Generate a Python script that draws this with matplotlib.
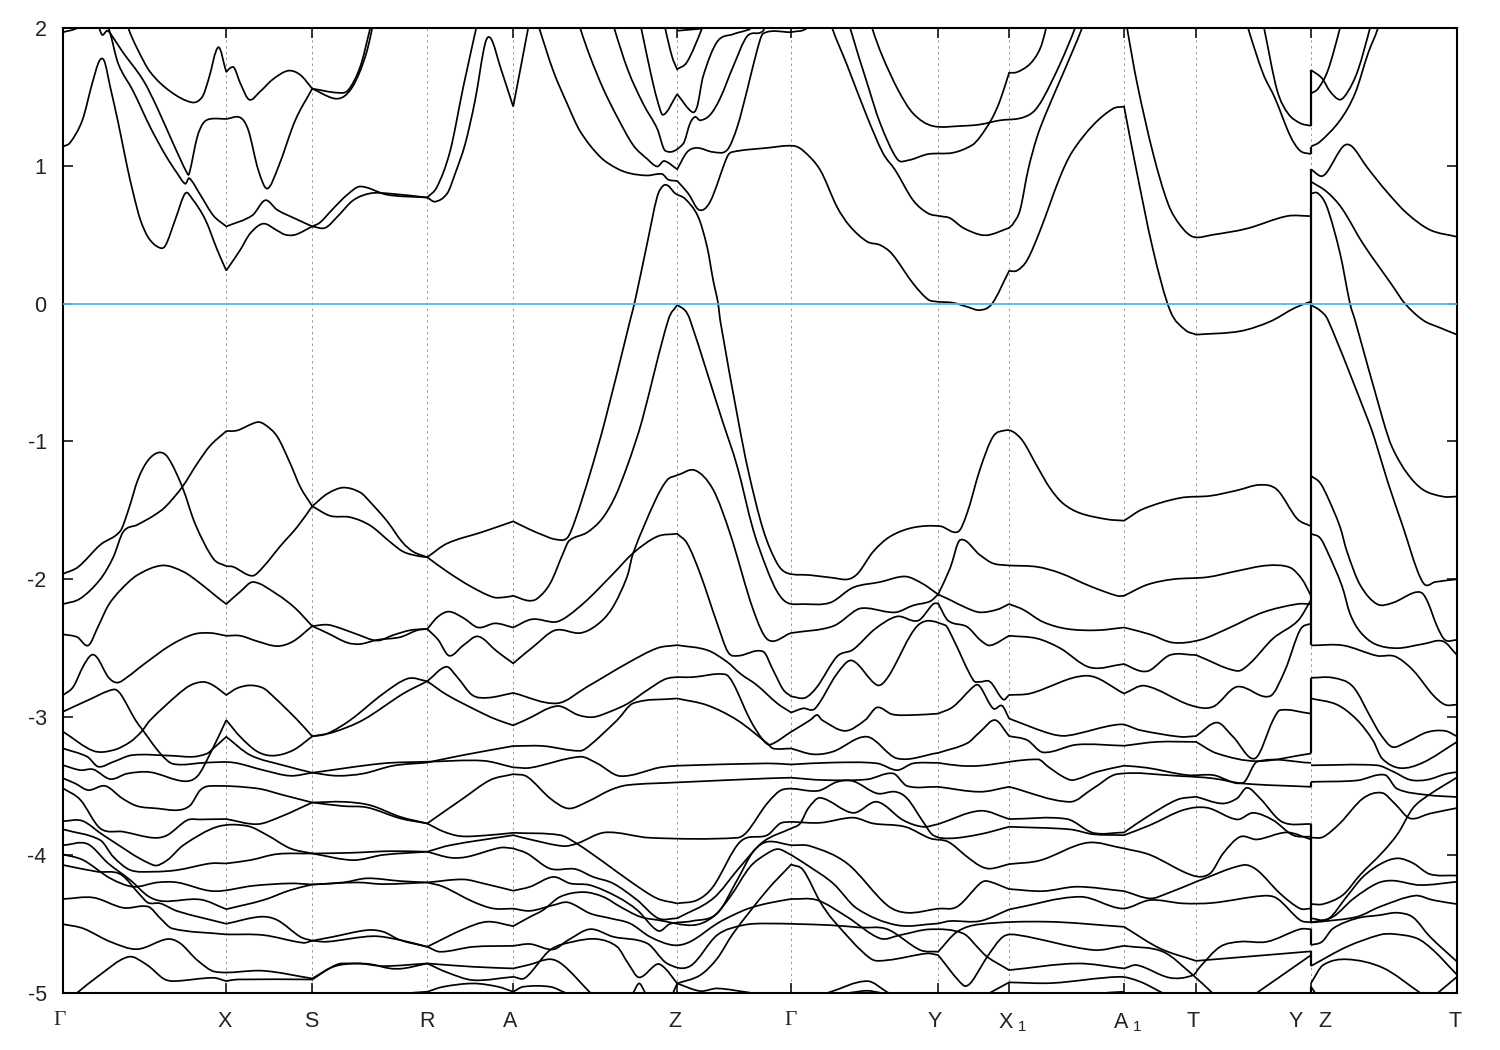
import matplotlib
matplotlib.use("Agg")
import matplotlib.pyplot as plt
from matplotlib.path import Path
from matplotlib.patches import PathPatch
from matplotlib.transforms import ScaledTranslation

plt.rcParams['font.family'] = ['Liberation Sans', 'DejaVu Sans']
plt.rcParams['mathtext.fontset'] = 'custom'
plt.rcParams['mathtext.rm'] = 'Liberation Sans'
plt.rcParams['axes.unicode_minus'] = False

sym_k = [0, 1.63, 2.49, 3.64, 4.50, 6.14, 7.28, 8.75, 9.46, 10.61, 11.33, 12.48, 13.94]
label_k = [0, 1.61, 2.48, 3.64, 4.47, 6.12, 7.27, 8.72, 9.49, 10.64, 11.30, 12.33, 12.62, 13.92]
label_text = ['Γ', 'X', 'S', 'R', 'A', 'Z', 'Γ', 'Y', r'X$_{\ 1}$', r'A$_{\ 1}$', 'T', 'Y', 'Z', 'T']
y_ticks = [2, 1, 0, -1, -2, -3, -4, -5]

# Conduction bands
c01 = [(0,1.14),(.07,1.17),(.19,1.33),(.29,1.60),(.36,1.76),(.41,1.76),(.47,1.57),(.55,1.31),(.64,.99),(.70,.80),(.77,.61),(.85,.48),(.95,.41),(1.02,.42),(1.12,.61),(1.22,.80),(1.29,.76),(1.42,.61),(1.54,.39),(1.63,.24),(1.77,.39),(1.87,.51),(2.0,.58),(2.14,.53),(2.22,.50),(2.32,.50),(2.49,.56),(2.62,.55),(2.74,.63),(2.90,.75),(3.07,.80),(3.24,.80),(3.64,.77),(3.72,.74),(3.84,.80),(3.92,.945),(4.02,1.16),(4.12,1.48),(4.22,1.89),(4.28,1.92),(4.37,1.72),(4.50,1.43),(4.65,2.0),(4.70,2.2)]
c02 = [(0,1.97),(.14,2.0),(.20,2.05),(.35,2.05),(.36,2.0),(.39,1.95),(.44,1.98),(.49,1.94),(.59,1.83),(.80,1.62),(.94,1.42),(1.10,1.16),(1.24,.945),(1.26,.945),(1.34,1.21),(1.40,1.31),(1.47,1.34),(1.63,1.34),(1.77,1.35),(1.85,1.26),(1.95,.97),(2.04,.835),(2.15,.99),(2.32,1.33),(2.49,1.56),(2.70,1.49),(2.80,1.50),(2.89,1.57),(2.97,1.69),(3.04,1.84),(3.09,2.0),(3.12,2.1)]
c03 = [(.43,2.05),(.47,1.96),(.55,1.74),(.70,1.54),(.87,1.28),(1.02,1.08),(1.14,.945),(1.22,.87),(1.26,.91),(1.37,.79),(1.50,.64),(1.63,.56),(1.89,.64),(2.02,.75),(2.14,.68),(2.34,.61),(2.49,.56),(2.57,.59),(2.70,.69),(2.84,.79),(2.97,.85),(3.24,.79),(3.64,.77),(3.74,.85),(3.87,1.11),(4.0,1.57),(4.13,2.0),(4.16,2.1)]
c04 = [(.62,2.1),(.65,2.0),(.74,1.85),(.87,1.68),(1.07,1.54),(1.29,1.46),(1.39,1.50),(1.45,1.62),(1.55,1.86),(1.63,1.68),(1.67,1.71),(1.71,1.71),(1.77,1.60),(1.86,1.48),(1.97,1.54),(2.10,1.63),(2.25,1.69),(2.37,1.66),(2.49,1.56),(2.75,1.53),(2.85,1.55),(2.97,1.72),(3.07,2.0),(3.10,2.1)]
c05 = [(4.72,2.1),(4.76,2.0),(4.90,1.69),(5.04,1.45),(5.17,1.25),(5.37,1.065),(5.54,.98),(5.67,.945),(5.84,.93),(5.99,.94),(6.05,.90),(6.14,.89),(6.25,.80),(6.36,.68),(6.47,.74),(6.64,1.065),(6.69,1.10),(7.04,1.13),(7.30,1.145),(7.40,1.11),(7.57,.97),(7.74,.70),(7.87,.56),(8.04,.45),(8.17,.425),(8.29,.36),(8.50,.146),(8.65,.03),(8.75,.013),(8.90,.006),(9.04,-.023),(9.17,-.047),(9.29,0),(9.46,.237),(9.54,.24),(9.64,.315),(9.77,.53),(9.97,.92),(10.09,1.10),(10.30,1.295),(10.50,1.415),(10.61,1.43),(10.72,1.017),(10.90,.39),(11.07,-.05),(11.22,-.19),(11.33,-.225),(11.77,-.20),(12.07,-.13),(12.32,-.03),(12.48,.015)]
c06 = [(5.14,2.1),(5.17,2.0),(5.27,1.79),(5.40,1.56),(5.54,1.355),(5.70,1.15),(5.84,1.05),(5.94,.995),(6.01,1.035),(6.14,.975),(6.24,1.10),(6.34,1.13),(6.50,1.10),(6.64,1.115),(6.74,1.28),(6.84,1.55),(6.94,1.84),(7.0,1.96),(7.28,1.97),(7.44,2.0),(7.5,2.1)]
c07 = [(5.48,2.1),(5.51,2.0),(5.65,1.69),(5.80,1.45),(5.94,1.27),(6.02,1.11),(6.20,1.16),(6.27,1.31),(6.32,1.355),(6.37,1.33),(6.47,1.37),(6.57,1.49),(6.70,1.72),(6.84,1.94),(7.0,1.98),(7.05,2.1)]
c08 = [(5.75,2.1),(5.78,2.0),(5.87,1.69),(5.94,1.48),(6.0,1.37),(6.14,1.52),(6.29,1.39),(6.34,1.43),(6.40,1.65),(6.54,1.90),(6.70,1.955),(6.84,1.985),(6.87,2.0),(6.9,2.1)]
c09 = [(6.0,2.1),(6.02,2.0),(6.09,1.79),(6.14,1.70),(6.24,1.755),(6.39,2.0),(6.43,2.1)]
c10 = [(6.14,1.98),(6.38,1.995)]
c11 = [(7.66,2.1),(7.69,2.0),(7.84,1.73),(8.04,1.355),(8.20,1.09),(8.32,.97),(8.50,.75),(8.65,.655),(8.77,.635),(8.87,.62),(9.0,.55),(9.17,.50),(9.27,.50),(9.46,.55),(9.50,.58),(9.57,.68),(9.65,.97),(9.74,1.21),(9.84,1.40),(10.0,1.67),(10.19,2.0),(10.23,2.1)]
c12 = [(7.84,2.1),(7.87,2.0),(8.04,1.60),(8.17,1.31),(8.34,1.05),(8.45,1.04),(8.65,1.085),(8.90,1.095),(9.09,1.15),(9.17,1.21),(9.29,1.345),(9.37,1.475),(9.46,1.675),(9.54,1.68),(9.67,1.74),(9.77,1.85),(9.83,2.0),(9.85,2.1)]
c13 = [(8.06,2.1),(8.09,2.0),(8.19,1.80),(8.35,1.55),(8.50,1.38),(8.69,1.29),(9.0,1.29),(9.17,1.30),(9.37,1.33),(9.57,1.345),(9.70,1.39),(9.80,1.49),(9.97,1.74),(10.12,2.0),(10.16,2.1)]
c14 = [(10.62,2.1),(10.64,2.0),(10.74,1.60),(10.90,1.09),(11.05,.725),(11.17,.57),(11.30,.485),(11.50,.50),(11.84,.545),(12.24,.635),(12.48,.635)]
c15 = [(11.82,2.1),(11.85,2.0),(12.0,1.67),(12.12,1.49),(12.27,1.22),(12.37,1.11),(12.48,1.085)]
c16 = [(11.98,2.1),(12.01,2.0),(12.14,1.55),(12.25,1.38),(12.37,1.31),(12.48,1.29)]

# Valence bands, main path
v01 = [(0,-1.96),(.15,-1.91),(.37,-1.75),(.57,-1.65),(.65,-1.50),(.75,-1.27),(.85,-1.135),(.96,-1.08),(1.05,-1.12),(1.19,-1.33),(1.32,-1.60),(1.50,-1.85),(1.63,-1.905),(1.70,-1.91),(1.89,-1.975),(2.0,-1.91),(2.17,-1.76),(2.34,-1.62),(2.49,-1.47),(2.64,-1.38),(2.80,-1.335),(2.97,-1.37),(3.07,-1.44),(3.24,-1.58),(3.39,-1.73),(3.50,-1.80),(3.64,-1.84),(3.84,-1.945),(4.07,-2.05),(4.30,-2.13),(4.42,-2.13),(4.50,-2.12),(4.65,-2.155),(4.74,-2.14),(4.87,-2.03),(5.0,-1.81),(5.06,-1.72),(5.24,-1.66),(5.39,-1.56),(5.52,-1.40),(5.64,-1.18),(5.72,-1.01),(5.79,-.845),(6.05,-.12),(6.14,-.01),(6.22,-.05),(6.27,-.12),(6.59,-.845),(6.74,-1.18),(6.90,-1.64),(7.04,-1.93),(7.14,-2.09),(7.24,-2.17),(7.40,-2.18),(7.67,-2.17),(7.90,-2.06),(8.17,-2.02),(8.42,-1.98),(8.59,-2.03),(8.75,-2.11),(8.87,-2.15),(9.04,-2.21),(9.17,-2.24),(9.34,-2.22),(9.46,-2.18),(9.60,-2.22),(9.80,-2.31),(10.04,-2.36),(10.34,-2.37),(10.61,-2.35),(10.87,-2.40),(11.10,-2.46),(11.37,-2.44),(11.64,-2.36),(12.0,-2.24),(12.34,-2.18),(12.48,-2.18)]
v02 = [(3.64,-1.84),(3.84,-1.74),(4.20,-1.655),(4.50,-1.58),(4.67,-1.64),(4.80,-1.68),(4.92,-1.71),(5.04,-1.70),(5.12,-1.57),(5.27,-1.23),(5.42,-.845),(5.67,-.12),(5.72,.026),(5.84,.437),(5.94,.775),(6.0,.855),(6.05,.855),(6.12,.80),(6.22,.76),(6.35,.63),(6.44,.41),(6.50,.17),(6.55,0),(6.57,-.12),(6.75,-.845),(6.85,-1.21),(7.0,-1.64),(7.14,-1.885),(7.24,-1.955),(7.47,-1.97),(7.70,-1.99),(7.85,-2.0),(7.95,-1.955),(8.10,-1.80),(8.27,-1.69),(8.50,-1.625),(8.77,-1.615),(8.95,-1.655),(9.04,-1.52),(9.17,-1.20),(9.30,-.965),(9.42,-.92),(9.50,-.93),(9.60,-1.0),(9.74,-1.18),(9.87,-1.34),(10.0,-1.45),(10.17,-1.52),(10.44,-1.565),(10.61,-1.575),(10.80,-1.49),(11.17,-1.41),(11.47,-1.395),(11.74,-1.355),(11.97,-1.315),(12.14,-1.35),(12.34,-1.56),(12.48,-1.615)]
v03 = [(0,-2.18),(.17,-2.14),(.37,-2.0),(.50,-1.84),(.60,-1.655),(.74,-1.605),(.90,-1.54),(1.02,-1.475),(1.19,-1.33),(1.34,-1.16),(1.47,-1.03),(1.63,-.925),(1.74,-.92),(1.94,-.86),(2.02,-.88),(2.14,-.965),(2.27,-1.16),(2.37,-1.33),(2.49,-1.47),(2.67,-1.54),(2.87,-1.55),(3.07,-1.61),(3.27,-1.73),(3.40,-1.80),(3.54,-1.83),(3.64,-1.84)]
v04 = [(0,-2.40),(.14,-2.42),(.25,-2.48),(.35,-2.34),(.45,-2.19),(.57,-2.08),(.74,-1.97),(.99,-1.90),(1.20,-1.945),(1.37,-2.03),(1.54,-2.13),(1.63,-2.18),(1.77,-2.09),(1.90,-2.02),(2.14,-2.11),(2.32,-2.21),(2.49,-2.34),(2.64,-2.39),(2.84,-2.46),(2.97,-2.47),(3.14,-2.44),(3.37,-2.42),(3.54,-2.37),(3.64,-2.36),(3.75,-2.27),(3.86,-2.235),(4.0,-2.28),(4.15,-2.35),(4.32,-2.32),(4.50,-2.35),(4.69,-2.29),(4.92,-2.31),(5.04,-2.27),(5.24,-2.15),(5.50,-1.96),(5.70,-1.81),(5.94,-1.69),(6.14,-1.67),(6.24,-1.74),(6.37,-1.96),(6.54,-2.32),(6.65,-2.53),(6.75,-2.555),(7.0,-2.525),(7.10,-2.66),(7.2,-2.80),(7.28,-2.85),(7.42,-2.86),(7.54,-2.78),(7.74,-2.56),(7.90,-2.51),(8.12,-2.36),(8.34,-2.27),(8.55,-2.30),(8.70,-2.18),(8.75,-2.175),(8.85,-2.30),(9.04,-2.345),(9.17,-2.44),(9.27,-2.48),(9.46,-2.41),(9.74,-2.43),(9.97,-2.50),(10.27,-2.64),(10.61,-2.615),(10.77,-2.665),(10.87,-2.66),(11.07,-2.55),(11.33,-2.55),(11.74,-2.665),(11.87,-2.61),(12.10,-2.43),(12.35,-2.30),(12.48,-2.15)]
v05 = [(3.64,-2.36),(3.75,-2.44),(3.86,-2.555),(4.0,-2.48),(4.15,-2.415),(4.34,-2.525),(4.50,-2.61),(4.70,-2.49),(4.92,-2.37),(5.17,-2.39),(5.34,-2.33),(5.49,-2.21),(5.64,-1.98),(5.70,-1.81),(5.92,-1.43),(6.04,-1.28),(6.14,-1.245),(6.32,-1.21),(6.50,-1.35),(6.67,-1.67),(6.90,-2.22),(7.05,-2.44),(7.28,-2.39),(7.70,-2.34),(7.94,-2.22),(8.04,-2.21),(8.32,-2.24),(8.50,-2.19),(8.67,-2.16),(8.75,-2.11),(8.87,-1.92),(8.97,-1.715),(9.17,-1.825),(9.30,-1.885),(9.46,-1.90),(9.74,-1.91),(9.97,-1.955),(10.27,-2.05),(10.54,-2.12),(10.61,-2.12),(10.84,-2.04),(11.10,-2.0),(11.44,-1.985),(11.74,-1.94),(12.04,-1.90),(12.27,-1.915),(12.39,-2.0),(12.48,-2.12)]
v06 = [(0,-2.84),(.10,-2.78),(.20,-2.63),(.28,-2.55),(.34,-2.57),(.45,-2.71),(.54,-2.75),(.64,-2.71),(.80,-2.62),(1.07,-2.48),(1.30,-2.40),(1.47,-2.39),(1.63,-2.41),(1.77,-2.41),(1.94,-2.45),(2.14,-2.485),(2.30,-2.45),(2.49,-2.34),(2.64,-2.33),(2.77,-2.355),(2.94,-2.40),(3.14,-2.445),(3.30,-2.405),(3.47,-2.37),(3.64,-2.36)]
v07 = [(0,-2.96),(.24,-2.88),(.50,-2.80),(.57,-2.83),(.72,-3.02),(.79,-3.09),(.97,-3.264),(1.10,-3.34),(1.44,-3.33),(1.70,-3.33),(2.0,-3.385),(2.27,-3.426),(2.49,-3.404),(3.20,-3.336),(3.64,-3.324),(4.20,-3.317),(4.50,-3.365),(4.67,-3.368),(5.17,-3.288),(5.34,-3.336),(5.57,-3.428),(5.97,-3.365),(6.14,-3.353),(7.04,-3.336),(7.28,-3.344),(7.70,-3.33),(8.14,-3.336),(8.34,-3.385),(8.50,-3.336),(8.75,-3.332),(8.97,-3.353),(9.17,-3.353),(9.75,-3.307),(9.85,-3.36),(10.0,-3.433),(10.10,-3.457),(10.34,-3.397),(10.61,-3.353),(10.84,-3.368),(11.24,-3.421),(11.50,-3.421),(11.80,-3.477),(11.94,-3.324),(12.48,-3.332)]
v08 = [(0,-3.107),(.30,-3.245),(.50,-3.24),(.67,-3.18),(.78,-3.107),(.87,-3.022),(1.14,-2.84),(1.27,-2.77),(1.40,-2.745),(1.50,-2.77),(1.63,-2.84),(1.74,-2.79),(1.87,-2.77),(2.0,-2.79),(2.10,-2.85),(2.34,-3.02),(2.49,-3.14),(2.70,-3.11),(3.0,-3.02),(3.40,-2.83),(3.64,-2.74),(3.83,-2.635),(3.94,-2.71),(4.09,-2.84),(4.24,-2.86),(4.50,-2.825),(4.94,-2.90),(5.24,-2.78),(5.64,-2.61),(5.94,-2.50),(6.14,-2.478),(6.44,-2.514),(6.64,-2.60),(6.77,-2.684),(6.94,-2.77),(7.14,-2.90),(7.28,-2.967),(7.40,-2.937),(7.52,-2.937),(7.74,-2.684),(7.89,-2.59),(8.14,-2.768),(8.25,-2.708),(8.55,-2.333),(8.82,-2.333),(8.89,-2.417),(9.10,-2.73),(9.17,-2.744),(9.27,-2.744),(9.40,-2.872),(9.46,-2.84),(9.67,-2.829),(10.24,-2.70),(10.61,-2.829),(10.82,-2.773),(11.27,-2.913),(11.50,-2.925),(11.74,-2.78),(12.07,-2.848),(12.22,-2.66),(12.37,-2.369),(12.48,-2.32)]
v09 = [(0,-3.35),(.17,-3.385),(.30,-3.38),(.47,-3.45),(.64,-3.41),(.87,-3.40),(1.20,-3.465),(1.34,-3.43),(1.47,-3.264),(1.63,-3.022),(1.77,-3.143),(1.94,-3.25),(2.10,-3.28),(2.30,-3.24),(2.49,-3.14),(2.64,-3.12),(2.87,-3.022),(3.20,-2.83),(3.45,-2.72),(3.64,-2.74),(3.84,-2.84),(4.20,-2.975),(4.34,-3.02),(4.50,-3.06),(4.62,-3.022),(4.94,-2.92),(5.15,-2.985),(5.30,-3.0),(5.47,-2.96),(5.65,-2.90),(5.84,-2.805),(6.04,-2.72),(6.30,-2.71),(6.62,-2.69),(6.70,-2.755),(6.87,-3.02),(7.0,-3.167),(7.07,-3.20),(7.28,-3.107),(7.47,-3.022),(7.54,-2.985),(7.59,-3.022),(7.82,-3.10),(8.02,-3.022),(8.14,-2.93),(8.29,-2.98),(8.50,-2.985),(8.75,-2.975),(8.90,-2.925),(9.12,-2.77),(9.17,-2.78),(9.30,-2.937),(9.39,-2.918),(9.46,-3.01),(9.50,-3.022),(9.87,-3.12),(10.04,-3.135),(10.57,-3.053),(10.77,-3.095),(11.17,-3.143),(11.33,-3.138),(11.54,-3.04),(11.70,-3.143),(11.92,-3.30),(12.10,-3.022),(12.17,-2.95),(12.48,-2.975)]
v10 = [(0,-3.228),(.24,-3.288),(.35,-3.36),(.50,-3.325),(.69,-3.276),(1.07,-3.28),(1.30,-3.288),(1.44,-3.264),(1.50,-3.228),(1.63,-3.143),(1.87,-3.276),(2.20,-3.35),(2.49,-3.404),(2.74,-3.426),(3.0,-3.41),(3.30,-3.353),(3.64,-3.33),(4.0,-3.276),(4.50,-3.21),(4.80,-3.21),(5.17,-3.245),(5.27,-3.203),(5.54,-3.022),(5.70,-2.90),(6.14,-2.865),(6.44,-2.914),(6.74,-3.022),(7.04,-3.19),(7.10,-3.228),(7.28,-3.228),(7.50,-3.27),(7.70,-3.25),(8.04,-3.143),(8.34,-3.30),(8.75,-3.26),(9.04,-3.19),(9.17,-3.107),(9.32,-3.022),(9.46,-3.138),(9.64,-3.167),(9.80,-3.256),(10.14,-3.20),(10.61,-3.208),(10.94,-3.18),(11.33,-3.18),(11.54,-3.264),(11.94,-3.32),(12.48,-3.264)]
v11 = [(0,-3.518),(.17,-3.60),(.37,-3.808),(.60,-3.832),(.90,-3.876),(1.04,-3.857),(1.24,-3.748),(1.37,-3.743),(1.63,-3.74),(1.94,-3.777),(2.17,-3.724),(2.49,-3.62),(2.80,-3.646),(3.04,-3.656),(3.37,-3.735),(3.64,-3.772),(4.0,-3.59),(4.27,-3.457),(4.50,-3.414),(4.64,-3.433),(4.87,-3.59),(5.05,-3.663),(5.24,-3.615),(5.47,-3.53),(5.64,-3.494),(6.14,-3.474),(7.04,-3.445),(7.28,-3.44),(7.60,-3.457),(8.04,-3.452),(8.30,-3.409),(8.44,-3.50),(8.75,-3.506),(9.17,-3.542),(9.46,-3.506),(10.07,-3.615),(10.30,-3.518),(10.54,-3.414),(11.17,-3.428),(11.50,-3.445),(11.80,-3.482),(12.48,-3.506)]
v12 = [(0,-3.445),(.12,-3.482),(.25,-3.53),(.42,-3.50),(.59,-3.59),(.74,-3.646),(.94,-3.663),(1.15,-3.675),(1.27,-3.64),(1.37,-3.53),(1.47,-3.50),(1.94,-3.518),(2.20,-3.566),(2.49,-3.62),(2.80,-3.615),(3.07,-3.64),(3.37,-3.724),(3.64,-3.772),(3.80,-3.83),(3.97,-3.864),(4.20,-3.86),(4.50,-3.84),(4.97,-3.857),(5.14,-3.92),(5.40,-4.05),(5.70,-4.207),(5.94,-4.316),(6.14,-4.352),(6.34,-4.328),(6.50,-4.23),(6.77,-3.905),(7.04,-3.857),(7.17,-3.772),(7.28,-3.76),(7.57,-3.767),(7.90,-3.73),(8.10,-3.772),(8.42,-3.796),(8.67,-3.88),(8.85,-3.905),(9.04,-4.014),(9.17,-4.08),(9.27,-4.10),(9.46,-4.067),(9.77,-4.04),(10.24,-3.912),(10.61,-3.953),(10.87,-4.0),(11.30,-4.15),(11.47,-4.135),(11.60,-3.99),(11.77,-3.869),(11.94,-3.888),(12.24,-3.837),(12.48,-3.888)]
v13 = [(0,-3.755),(.19,-3.753),(.40,-3.857),(.90,-4.074),(1.04,-4.038),(1.20,-3.93),(1.54,-3.796),(1.84,-3.79),(2.04,-3.857),(2.27,-3.953),(2.49,-3.99),(2.90,-4.038),(3.20,-4.0),(3.64,-3.977),(3.87,-3.93),(4.50,-3.857),(4.67,-3.888),(5.0,-3.936),(5.14,-3.917),(5.42,-3.837),(5.87,-3.876),(6.74,-3.876),(6.84,-3.832),(7.04,-3.627),(7.20,-3.525),(7.55,-3.535),(7.74,-3.47),(7.90,-3.465),(8.14,-3.554),(8.32,-3.542),(8.44,-3.59),(8.60,-3.76),(8.70,-3.857),(8.87,-3.88),(9.17,-3.85),(9.46,-3.796),(10.07,-3.815),(10.30,-3.85),(10.61,-3.857),(10.87,-3.784),(11.20,-3.675),(11.44,-3.658),(11.74,-3.743),(11.90,-3.695),(12.10,-3.748),(12.30,-3.857),(12.48,-3.869)]
v14 = [(0,-3.815),(.37,-3.893),(.50,-4.014),(.67,-4.11),(.90,-4.122),(1.14,-4.11),(1.47,-4.062),(1.63,-4.062),(1.87,-4.038),(2.14,-3.994),(2.49,-3.99),(2.87,-3.985),(3.27,-3.973),(3.64,-3.977),(3.87,-4.02),(4.04,-4.014),(4.37,-3.948),(4.50,-3.953),(4.64,-3.99),(4.87,-4.10),(5.12,-4.103),(5.30,-4.16),(5.50,-4.207),(5.74,-4.328),(5.95,-4.46),(6.14,-4.46),(6.50,-4.316),(6.77,-4.086),(7.0,-3.905),(7.28,-3.808),(7.37,-3.772),(7.45,-3.663),(7.57,-3.586),(7.90,-3.695),(8.14,-3.615),(8.40,-3.748),(8.60,-3.796),(8.75,-3.777),(9.17,-3.68),(9.46,-3.74),(10.04,-3.74),(10.30,-3.84),(10.61,-3.837),(10.84,-3.724),(11.14,-3.60),(11.33,-3.578),(11.59,-3.627),(11.74,-3.59),(11.84,-3.513),(11.97,-3.59),(12.19,-3.76),(12.48,-3.777)]
v15 = [(0,-3.93),(.24,-3.92),(.45,-4.062),(.67,-4.183),(.85,-4.30),(1.0,-4.336),(1.37,-4.324),(1.63,-4.394),(2.0,-4.328),(2.27,-4.256),(2.49,-4.215),(2.80,-4.2),(3.04,-4.17),(3.37,-4.19),(3.64,-4.2),(3.80,-4.231),(4.10,-4.34),(4.30,-4.389),(4.50,-4.39),(4.67,-4.406),(4.90,-4.365),(5.05,-4.345),(5.27,-4.425),(5.47,-4.46),(5.67,-4.498),(5.87,-4.595),(6.10,-4.655),(6.27,-4.63),(6.54,-4.498),(6.70,-4.437),(6.85,-4.39),(7.04,-4.352),(7.28,-4.32),(7.54,-4.328),(7.84,-4.45),(8.17,-4.606),(8.37,-4.582),(8.67,-4.54),(9.0,-4.57),(9.17,-4.69),(9.24,-4.74),(9.46,-4.836),(10.14,-4.788),(10.61,-4.824),(10.74,-4.80),(11.07,-4.892),(11.30,-4.873),(11.37,-4.812),(11.57,-4.667),(11.77,-4.63),(12.04,-4.63),(12.37,-4.539),(12.48,-4.539)]
v16 = [(0,-3.997),(.20,-4.038),(.47,-4.17),(.70,-4.231),(.94,-4.2),(1.14,-4.2),(1.50,-4.263),(1.90,-4.224),(2.27,-4.207),(2.49,-4.215),(2.94,-4.2),(3.20,-4.212),(3.64,-4.2),(4.0,-4.178),(4.20,-4.207),(4.50,-4.26),(4.67,-4.231),(4.90,-4.16),(5.07,-4.207),(5.27,-4.22),(5.54,-4.304),(5.74,-4.40),(5.95,-4.551),(6.07,-4.50),(6.29,-4.48),(6.54,-4.425),(6.74,-4.183),(6.90,-3.977),(7.04,-3.905),(7.28,-3.93),(7.47,-3.936),(7.84,-4.062),(8.24,-4.365),(8.44,-4.42),(8.75,-4.39),(8.94,-4.376),(9.17,-4.207),(9.24,-4.19),(9.46,-4.248),(9.80,-4.263),(10.14,-4.231),(10.61,-4.263),(10.87,-4.316),(11.04,-4.28),(11.33,-4.195),(11.80,-4.074),(11.94,-4.11),(12.17,-4.28),(12.37,-4.389),(12.48,-4.389)]
v17 = [(0,-4.074),(.34,-4.122),(.57,-4.14),(.77,-4.292),(.85,-4.348),(.97,-4.352),(1.14,-4.408),(1.63,-4.50),(1.97,-4.449),(2.14,-4.473),(2.37,-4.594),(2.49,-4.623),(2.70,-4.594),(3.04,-4.546),(3.20,-4.558),(3.37,-4.618),(3.64,-4.667),(4.0,-4.54),(4.24,-4.485),(4.50,-4.517),(4.67,-4.449),(4.80,-4.40),(4.97,-4.304),(5.20,-4.27),(5.40,-4.304),(5.57,-4.376),(5.77,-4.449),(5.95,-4.473),(6.30,-4.51),(6.50,-4.449),(6.67,-4.304),(6.87,-4.086),(7.04,-3.99),(7.15,-3.958),(7.28,-4.0),(7.44,-4.074),(7.70,-4.207),(7.94,-4.39),(8.34,-4.51),(8.75,-4.498),(8.87,-4.48),(9.17,-4.48),(9.46,-4.396),(10.17,-4.304),(10.59,-4.389),(10.87,-4.328),(11.20,-4.352),(11.50,-4.348),(12.0,-4.297),(12.14,-4.316),(12.37,-4.473),(12.48,-4.49)]
v18 = [(0,-4.32),(.30,-4.31),(.60,-4.384),(.85,-4.376),(.97,-4.46),(1.09,-4.534),(1.63,-4.577),(2.0,-4.582),(2.40,-4.638),(2.49,-4.623),(2.64,-4.63),(3.10,-4.59),(3.37,-4.618),(3.64,-4.667),(3.77,-4.703),(4.10,-4.667),(4.50,-4.66),(4.67,-4.647),(4.90,-4.686),(5.05,-4.618),(5.27,-4.539),(5.50,-4.594),(5.84,-4.642),(6.04,-4.788),(6.27,-4.807),(6.54,-4.582),(6.80,-4.51),(7.04,-4.498),(7.67,-4.51),(7.97,-4.527),(8.24,-4.539),(8.57,-4.69),(8.75,-4.703),(8.94,-4.558),(9.17,-4.503),(9.84,-4.485),(10.61,-4.522),(10.97,-4.679),(11.33,-4.769),(12.48,-4.70)]
v19 = [(0,-4.503),(.20,-4.534),(.47,-4.63),(.74,-4.684),(1.04,-4.611),(1.17,-4.642),(1.34,-4.764),(1.52,-4.848),(2.0,-4.841),(2.49,-4.897),(2.74,-4.795),(2.87,-4.788),(3.07,-4.793),(3.27,-4.824),(3.40,-4.824),(3.64,-4.788),(4.10,-4.812),(4.50,-4.824),(4.67,-4.795),(4.87,-4.757),(5.0,-4.80),(5.27,-5.0)]
v20 = [(.14,-5.0),(.34,-4.885),(.65,-4.74),(.84,-4.80),(1.0,-4.897),(1.10,-4.916),(1.50,-4.892),(1.63,-4.916),(1.74,-4.904),(2.49,-4.904),(2.70,-4.812),(2.94,-4.788),(3.20,-4.807),(3.64,-4.788),(3.84,-4.853),(4.10,-4.909),(4.50,-4.885),(4.62,-4.892),(4.87,-4.69),(5.10,-4.63),(5.34,-4.611),(5.54,-4.667),(5.65,-4.788),(5.76,-4.889),(5.94,-4.793),(6.02,-4.824),(6.14,-4.933),(6.37,-4.988),(6.54,-4.969),(6.87,-5.0)]
v21 = [(3.50,-5.0),(3.64,-4.993),(3.80,-4.957),(4.10,-4.933),(4.35,-4.957),(4.50,-4.993),(4.60,-4.957),(4.87,-4.957),(5.02,-5.0)]
v22 = [(5.70,-5.0),(5.76,-4.933),(5.82,-5.0)]
v23 = [(6.10,-5.0),(6.14,-4.933),(6.37,-4.873),(6.54,-4.752),(6.70,-4.57),(7.04,-4.256),(7.28,-4.07),(7.40,-4.11),(7.57,-4.34),(7.70,-4.473),(8.07,-4.75),(8.24,-4.764),(8.64,-4.715),(8.75,-4.727),(9.0,-4.945),(9.07,-4.933),(9.17,-4.824),(9.24,-4.74),(9.40,-4.594),(9.55,-4.582),(10.30,-4.69),(10.61,-4.66),(11.0,-4.703),(11.30,-4.873),(11.49,-5.0)]
v24 = [(7.65,-5.0),(8.04,-4.916),(8.25,-5.0)]
v25 = [(7.87,-5.0),(8.04,-4.986),(8.17,-5.0)]
v26 = [(9.27,-5.0),(9.46,-4.925),(9.89,-4.93),(10.57,-4.885),(10.77,-4.92),(10.99,-5.0)]
v27 = [(10.44,-5.0),(10.61,-4.993)]
v28 = [(11.94,-5.0),(12.48,-4.727)]

# Second path, Z to T
r01 = [(12.48,1.695),(12.59,1.635),(12.67,1.54),(12.77,1.48),(12.85,1.54),(12.95,1.695),(13.07,2.0),(13.10,2.1)]
r02 = [(12.48,1.525),(12.55,1.56),(12.65,1.695),(12.77,2.0),(12.80,2.1)]
r03 = [(12.48,1.14),(12.57,1.175),(12.77,1.33),(12.92,1.525),(13.05,1.815),(13.15,2.0),(13.18,2.1)]
r04 = [(12.48,.975),(12.58,.925),(12.64,.955),(12.80,1.14),(12.89,1.14),(13.04,.99),(13.24,.81),(13.44,.655),(13.67,.535),(13.94,.485)]
r05 = [(12.48,.885),(12.64,.81),(12.79,.69),(13.0,.435),(13.29,.135),(13.42,0),(13.60,-.12),(13.77,-.175),(13.94,-.225)]
r06 = [(12.48,.80),(12.55,.80),(12.64,.70),(12.77,.365),(12.87,0),(12.92,-.12),(13.20,-.845),(13.29,-1.04),(13.44,-1.23),(13.60,-1.35),(13.80,-1.40),(13.94,-1.40)]
r07 = [(12.48,-.01),(12.57,-.05),(12.65,-.12),(13.05,-.845),(13.12,-.99),(13.25,-1.30),(13.40,-1.62),(13.54,-1.93),(13.62,-2.04),(13.72,-2.02),(13.94,-2.0)]
r08 = [(12.48,-1.25),(12.57,-1.30),(12.65,-1.41),(12.77,-1.62),(12.84,-1.80),(12.97,-2.04),(13.14,-2.18),(13.30,-2.17),(13.50,-2.10),(13.59,-2.10),(13.65,-2.17),(13.74,-2.34),(13.82,-2.44),(13.94,-2.44)]
r09 = [(12.48,-1.67),(12.57,-1.70),(12.65,-1.81),(12.79,-2.05),(12.87,-2.25),(12.97,-2.38),(13.12,-2.47),(13.34,-2.50),(13.60,-2.47),(13.80,-2.45),(13.94,-2.55)]
r10 = [(12.48,-2.48),(12.80,-2.48),(13.14,-2.555),(13.32,-2.56),(13.50,-2.66),(13.70,-2.84),(13.82,-2.91),(13.94,-2.91)]
r11 = [(12.48,-2.715),(12.70,-2.715),(12.90,-2.78),(13.09,-3.02),(13.17,-3.12),(13.29,-3.216),(13.44,-3.18),(13.64,-3.11),(13.82,-3.10),(13.94,-3.14)]
r12 = [(12.48,-2.865),(12.74,-2.91),(12.94,-3.02),(13.10,-3.17),(13.19,-3.30),(13.37,-3.37),(13.60,-3.33),(13.94,-3.18)]
r13 = [(12.48,-3.35),(13.14,-3.35),(13.30,-3.395),(13.47,-3.455),(13.64,-3.455),(13.84,-3.41),(13.94,-3.40)]
r14 = [(12.48,-3.47),(12.94,-3.46),(13.22,-3.42),(13.34,-3.52),(13.64,-3.565),(13.94,-3.58)]
r15 = [(12.48,-3.875),(12.60,-3.87),(12.77,-3.77),(13.0,-3.59),(13.19,-3.55),(13.32,-3.63),(13.47,-3.735),(13.67,-3.70),(13.94,-3.66)]
r16 = [(12.48,-4.357),(12.60,-4.357),(12.80,-4.29),(12.97,-4.146),(13.20,-3.977),(13.35,-3.844),(13.50,-3.66),(13.67,-3.56),(13.94,-3.438)]
r17 = [(12.48,-4.46),(12.65,-4.466),(12.84,-4.30),(13.0,-4.159),(13.19,-4.06),(13.35,-4.025),(13.50,-4.06),(13.67,-4.14),(13.94,-4.15)]
r18 = [(12.48,-4.49),(12.70,-4.449),(12.90,-4.32),(13.14,-4.207),(13.30,-4.187),(13.57,-4.219),(13.94,-4.195)]
r19 = [(12.48,-4.49),(12.57,-4.485),(12.94,-4.449),(13.17,-4.376),(13.52,-4.296),(13.70,-4.328),(13.94,-4.357)]
r20 = [(12.48,-4.654),(12.59,-4.63),(12.70,-4.534),(12.94,-4.46),(13.17,-4.437),(13.34,-4.42),(13.50,-4.453),(13.67,-4.594),(13.94,-4.775)]
r21 = [(12.48,-4.806),(12.84,-4.666),(13.17,-4.58),(13.30,-4.574),(13.54,-4.606),(13.70,-4.69),(13.94,-4.87)]
r22 = [(12.48,-4.93),(12.60,-4.80),(12.84,-4.758),(13.20,-4.82),(13.57,-5.0)]
r23 = [(13.75,-5.0),(13.94,-4.885)]
r24 = [(12.48,-4.957),(12.52,-5.0)]

# Energies joined by the vertical jump between the two paths at k = 12.48
jump_low = [1.29, 1.085, -2.48, -3.264, -3.506, -4.49, -4.654, -4.806, -5.0]
jump_high = [1.695, 1.14, .975, -2.715, -3.47, -3.777, -4.539, -4.70, -4.957]
jump_k = 12.48

bands = [c01, c02, c03, c04, c05, c06, c07, c08, c09, c10, c11, c12, c13, c14, c15, c16,
         v01, v02, v03, v04, v05, v06, v07, v08, v09, v10, v11, v12, v13, v14, v15, v16,
         v17, v18, v19, v20, v21, v22, v23, v24, v25, v26, v27, v28,
         r01, r02, r03, r04, r05, r06, r07, r08, r09, r10, r11, r12, r13, r14, r15, r16,
         r17, r18, r19, r20, r21, r22, r23, r24]


def smooth_path(pts):
    """Bezier path through the read points; high-symmetry points stay as corners."""
    runs, cur = [], [pts[0]]
    for p in pts[1:]:
        cur.append(p)
        if any(abs(p[0] - s) < 0.012 for s in sym_k):
            runs.append(cur)
            cur = [p]
    if len(cur) > 1:
        runs.append(cur)
    verts, codes = [pts[0]], [Path.MOVETO]
    for run in runs:
        n = len(run)
        slopes = []
        for i in range(n):
            a, b = run[max(i - 1, 0)], run[min(i + 1, n - 1)]
            slopes.append((b[1] - a[1]) / (b[0] - a[0]))
        for i in range(n - 1):
            dk = run[i + 1][0] - run[i][0]
            verts += [(run[i][0] + dk / 3, run[i][1] + slopes[i] * dk / 3),
                      (run[i + 1][0] - dk / 3, run[i + 1][1] - slopes[i + 1] * dk / 3),
                      run[i + 1]]
            codes += [Path.CURVE4] * 3
    return Path(verts, codes)


fig = plt.figure(figsize=(15, 10.5), dpi=100)
ax = fig.add_axes([63.3 / 1500, 1 - 992.7 / 1050, (1457 - 63.3) / 1500, (992.7 - 28) / 1050])

for k in sym_k[1:-1]:
    ax.axvline(k, color='#999999', lw=0.7, dashes=(2.5, 3.5), zorder=1)

for b in bands:
    ax.add_patch(PathPatch(smooth_path(b), fill=False, edgecolor='black', lw=1.25, zorder=3))
ax.vlines([jump_k] * len(jump_low), jump_low, jump_high, color='black', lw=1.6, zorder=3)
ax.axhline(0, color='#56b4e9', lw=1.3, zorder=4)

ax.set_yticks(y_ticks)
ax.set_xticks(label_k, label_text)
ax.set_xticks(sym_k[1:-1], minor=True)
ax.set_xlim(0, 13.94)
ax.set_ylim(-5, 2)
ax.tick_params(axis='x', which='major', length=0, pad=13.5, labelsize=15.5)
ax.tick_params(axis='x', which='minor', direction='in', length=7.5, width=1.1, top=True, bottom=True)
ax.tick_params(axis='y', direction='in', length=7.5, width=1.1, left=True, right=True, pad=12, labelsize=15.5)
for lab in ax.get_xticklabels():
    lab.set_color('#222222')
    if lab.get_text() == 'Γ':
        lab.set_family(['Liberation Serif'])
ax.get_xticklabels()[0].set_transform(
    ax.get_xticklabels()[0].get_transform() + ScaledTranslation(-4 / 100, 0, fig.dpi_scale_trans))
for lab in ax.get_yticklabels():
    lab.set_color('#222222')
for s in ax.spines.values():
    s.set_linewidth(1.5)

fig.savefig('out.png', dpi=100)
